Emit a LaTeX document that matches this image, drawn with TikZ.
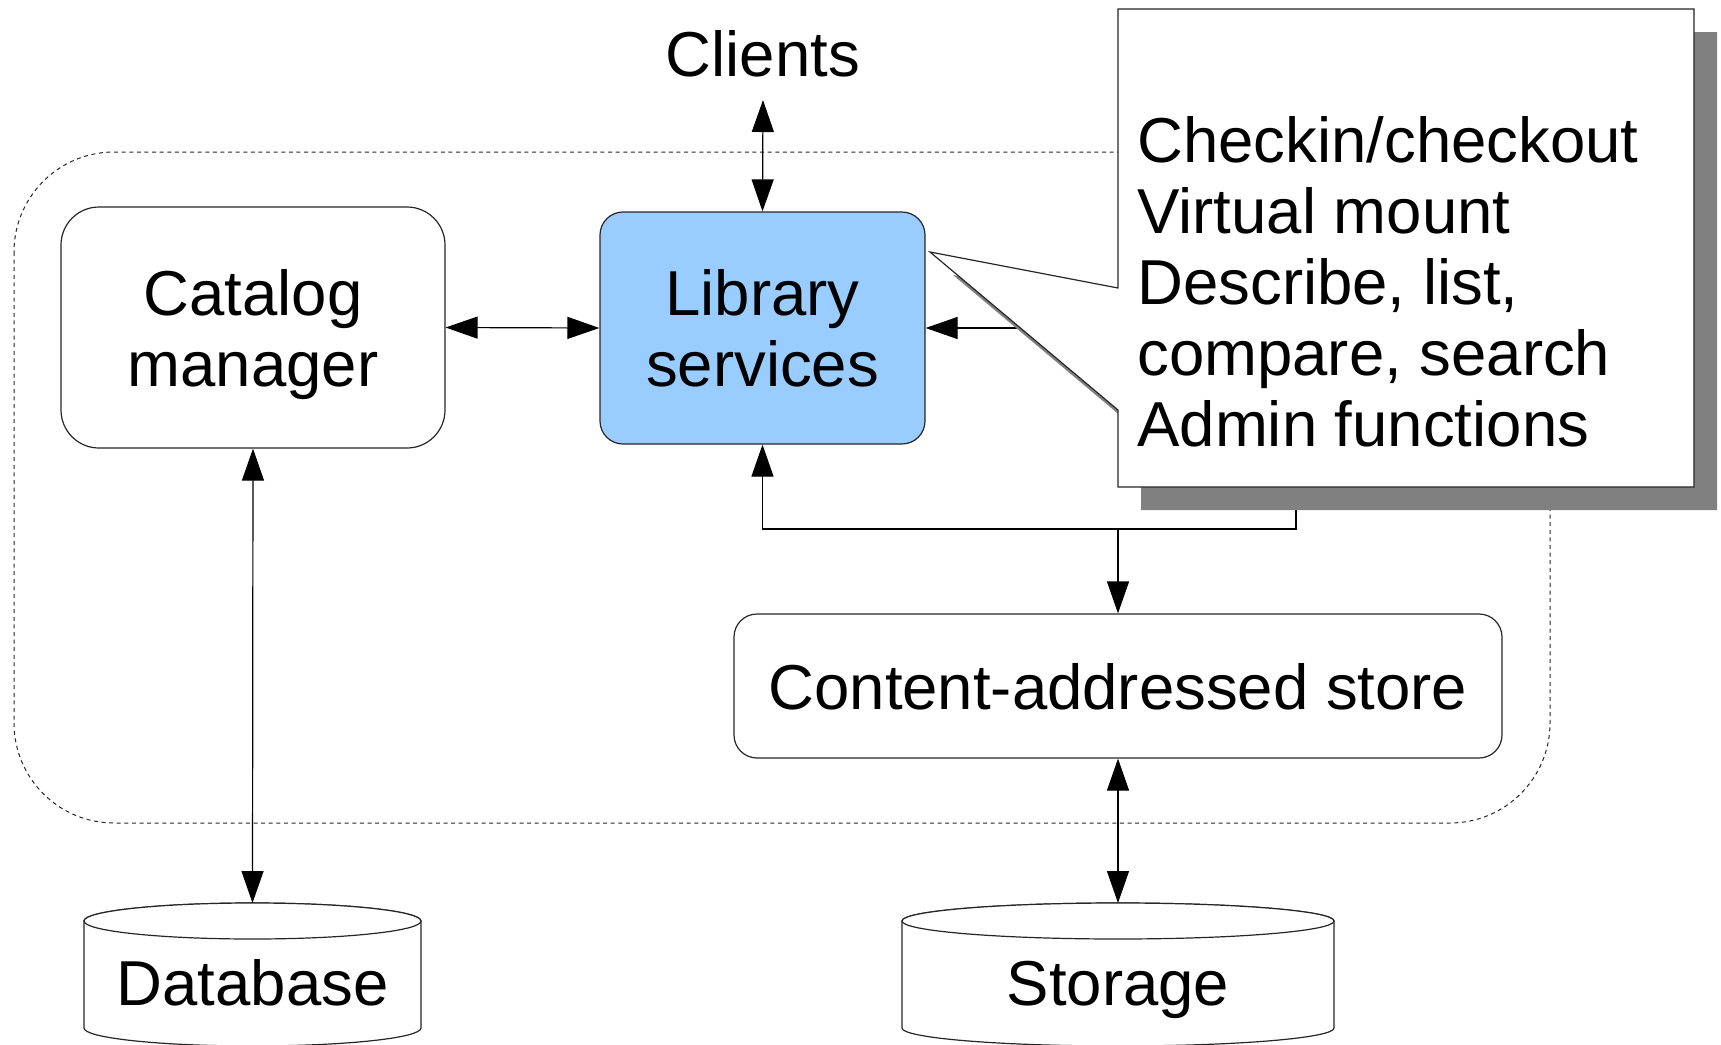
\documentclass[tikz,border=0pt]{standalone}
\usepackage{fontspec}
\setmainfont{Liberation Sans}
\usetikzlibrary{arrows.meta}
\definecolor{libblue}{HTML}{99CCFF}
\definecolor{shadowgray}{HTML}{808080}
\begin{document}
\begin{tikzpicture}[x=0.5pt,y=-0.5pt,
  every node/.style={font=\fontsize{31.75pt}{35.5pt}\selectfont},
  >={Triangle[length=16pt,width=11pt]},
  box/.style={draw=black!85,line width=0.6pt,fill=white,rounded corners=#1,
    align=center,text depth=0pt,inner sep=0pt},
  conn/.style={draw=black,line width=0.6pt},
  boundary/.style={draw=black!85,line width=0.5pt,dash pattern=on 2pt off 1.8pt,rounded corners=50pt},
  cyl/.style={draw=black!85,line width=0.6pt,fill=white},
  label/.style={inner sep=0pt,text depth=0pt}
]
\useasboundingbox (0,0) rectangle (1721,1045);

% subsystem boundary
\draw[boundary] (14,152) rectangle (1550,823);

% components
\node[box=19pt,minimum width=192pt,minimum height=120.5pt] (cat) at (253,327.5) {Catalog\\manager};
\node[box=11.5pt,fill=libblue,minimum width=162.5pt,minimum height=116pt] (lib) at (762.5,328) {Library\\services};
\node[box=11.5pt,minimum width=384pt,minimum height=72pt] (store) at (1118,686) {Content-addressed store};
\node[anchor=base,inner xsep=0pt,inner ysep=11.5pt] (clients) at (763,76) {Clients};

% cylinders
\draw[cyl] (84,921) -- (84,1028) arc[start angle=180,end angle=360,x radius=84.25pt,y radius=9pt]
  -- (421,921) arc[start angle=0,end angle=180,x radius=84.25pt,y radius=9pt] -- cycle;
\draw[cyl] (252.5,921) ellipse[x radius=84.25pt,y radius=9pt];
\node[label,anchor=base] (db) at (252.5,1005) {Database};
\coordinate (dbtop) at (252.5,903);

\draw[cyl] (902,921) -- (902,1028) arc[start angle=180,end angle=360,x radius=108pt,y radius=9pt]
  -- (1334,921) arc[start angle=0,end angle=180,x radius=108pt,y radius=9pt] -- cycle;
\draw[cyl] (1118,921) ellipse[x radius=108pt,y radius=9pt];
\node[label,anchor=base] (stg) at (1118,1005) {Storage};
\coordinate (stgtop) at (1118,903);

% connectors
\coordinate (feedA) at (1300,328);
\coordinate (feedB) at (1296,470);
\coordinate (hub) at (1118,529);
\draw[conn,<->] (clients.south) -- (lib.north);
\draw[conn,<->] (cat.east) -- (lib.west);
\draw[conn,<->] (cat.south) -- (dbtop);
\draw[conn,<->] (store.south) -- (stgtop);
\draw[conn,->] (feedA) -- (lib.east);
\draw[conn,->] (feedB) |- (hub) -| (lib.south);
\draw[conn,->] (hub) -- (store.north);

% callout with drop shadow
\fill[shadowgray] (1141,32) -- (1717,32) -- (1717,510) -- (1141,510) -- (1141,433) -- (953,275) -- (1141,311) -- cycle;
\draw[draw=black!85,line width=0.6pt,fill=white] (1118,9) -- (1694,9) -- (1694,487) -- (1118,487)
  -- (1118,410) -- (930,252) -- (1118,288) -- cycle;
\node[label,anchor=west,align=left] (ops) at (1137,281)
  {Checkin/checkout\\Virtual mount\\Describe, list,\\compare, search\\Admin functions};
\end{tikzpicture}
\end{document}
